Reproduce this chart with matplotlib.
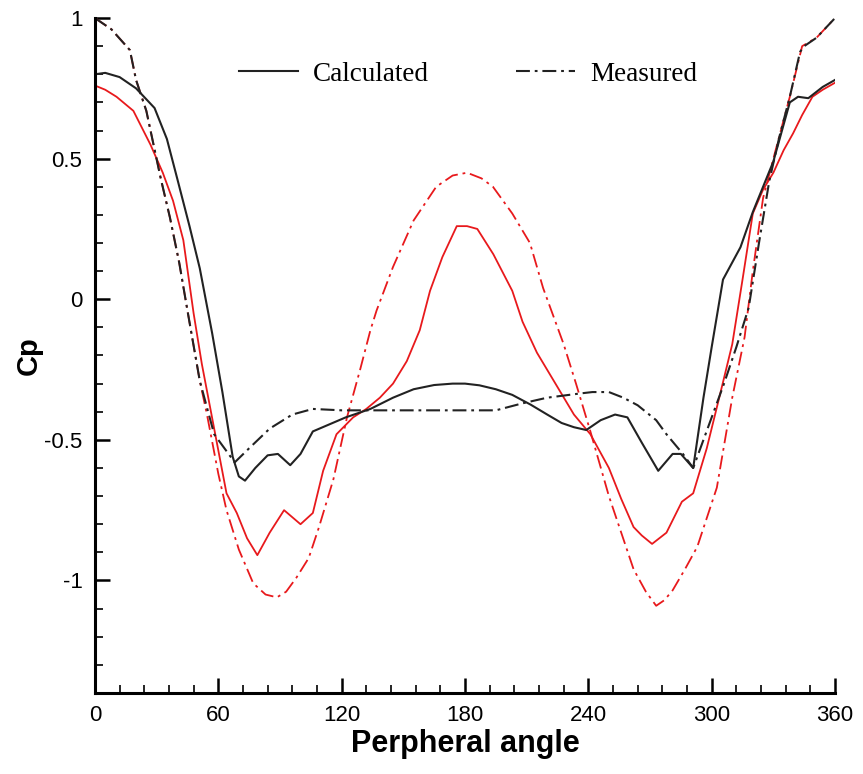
import numpy as np
import matplotlib
matplotlib.use("Agg")
import matplotlib.pyplot as plt

plt.rcParams['lines.scale_dashes'] = False

# black: case 1
calc1_x = [0, 5, 12, 20, 29, 35, 40, 46, 51, 57, 62, 67, 70, 73, 78, 84, 89, 95, 100, 106,
           114, 122, 134, 145, 155, 165, 174, 180, 187, 195, 203, 212, 220, 227, 233, 239,
           246, 253, 259, 266, 274, 281, 285, 291, 296, 300, 305.5, 314, 320, 330, 338, 342,
           347, 354, 360]
calc1_y = [0.80, 0.805, 0.79, 0.75, 0.68, 0.57, 0.43, 0.26, 0.11, -0.12, -0.33, -0.56, -0.63,
           -0.645, -0.60, -0.555, -0.55, -0.59, -0.55, -0.47, -0.445, -0.42, -0.39, -0.35,
           -0.32, -0.305, -0.30, -0.30, -0.306, -0.32, -0.34, -0.375, -0.41, -0.44, -0.455,
           -0.465, -0.43, -0.41, -0.42, -0.51, -0.61, -0.55, -0.55, -0.60, -0.35, -0.17, 0.07,
           0.185, 0.31, 0.49, 0.70, 0.72, 0.715, 0.755, 0.78]

meas1_x = [0, 8, 17, 20, 25, 32, 36.5, 41, 45, 51, 58, 68, 75, 85, 96, 106, 120, 140, 160,
           180, 195, 208, 220, 236, 242, 250, 257, 264, 273, 278, 286, 291, 300, 306, 312,
           318, 323, 328, 333, 338, 343, 345, 351, 360]
meas1_y = [1.0, 0.96, 0.886, 0.78, 0.67, 0.43, 0.29, 0.13, -0.04, -0.29, -0.48, -0.58, -0.53,
           -0.46, -0.41, -0.39, -0.395, -0.395, -0.395, -0.395, -0.395, -0.37, -0.35, -0.335,
           -0.33, -0.33, -0.35, -0.377, -0.43, -0.48, -0.55, -0.60, -0.42, -0.30, -0.17,
           -0.03, 0.20, 0.42, 0.58, 0.72, 0.88, 0.90, 0.93, 1.0]

# red: case 2
calc2_x = [0, 5, 10.5, 18.7, 27, 33, 38, 43, 48, 52, 58, 64, 69, 74, 79, 85, 92, 96, 100, 106,
           111, 117.5, 125.6, 132, 138.6, 145, 151.7, 158, 163, 169, 176, 181, 186, 193.8,
           203, 208, 215, 224, 233, 241, 250, 256, 262, 266, 271, 278, 285.5, 291, 297.6,
           304, 310, 315, 320, 325, 330, 335, 339.6, 344, 349, 354, 360]
calc2_y = [0.76, 0.745, 0.72, 0.67, 0.55, 0.45, 0.35, 0.21, -0.05, -0.23, -0.46, -0.69, -0.76,
           -0.85, -0.91, -0.83, -0.75, -0.775, -0.80, -0.76, -0.61, -0.48, -0.42, -0.39,
           -0.35, -0.30, -0.22, -0.11, 0.03, 0.15, 0.26, 0.26, 0.25, 0.16, 0.03, -0.08, -0.19,
           -0.30, -0.41, -0.48, -0.60, -0.71, -0.81, -0.84, -0.87, -0.83, -0.72, -0.69, -0.53,
           -0.34, -0.16, 0.07, 0.305, 0.39, 0.45, 0.53, 0.59, 0.655, 0.72, 0.745, 0.77]

meas2_x = [0, 8, 17, 20, 25, 32, 36.5, 41, 45, 51, 54.5, 60, 64, 70, 77, 83, 88.5, 93, 98,
           104, 109, 116, 122.6, 129, 134, 137, 145, 155, 166, 174, 181, 188, 193.6, 203,
           211.6, 218, 228, 234, 241, 250, 256, 262, 268, 273, 277, 281, 287, 293, 302.5,
           310, 316, 320, 325, 330, 338, 344, 351, 360]
meas2_y = [1.0, 0.96, 0.886, 0.78, 0.67, 0.43, 0.29, 0.13, -0.04, -0.29, -0.41, -0.62, -0.75,
           -0.89, -1.01, -1.05, -1.06, -1.04, -0.99, -0.92, -0.81, -0.64, -0.42, -0.25, -0.11,
           -0.04, 0.115, 0.28, 0.40, 0.44, 0.45, 0.43, 0.40, 0.305, 0.20, 0.04, -0.16, -0.30,
           -0.47, -0.70, -0.83, -0.96, -1.04, -1.09, -1.07, -1.035, -0.96, -0.88, -0.67,
           -0.35, -0.135, 0.10, 0.36, 0.50, 0.72, 0.90, 0.93, 1.0]

dashdot = (10, 3.5, 2, 3.5)

fig = plt.figure(figsize=(8.63, 7.74), dpi=100)
ax = fig.add_axes([0.110, 0.1047, 0.8576, 0.872])

ax.plot(calc2_x, calc2_y, color='#e8191c', lw=1.3)
ax.plot(meas2_x, meas2_y, color='#e8191c', lw=1.3, dashes=dashdot)
l1, = ax.plot(calc1_x, calc1_y, color='#222222', lw=1.5)
l2, = ax.plot(meas1_x, meas1_y, color='#222222', lw=1.5, dashes=dashdot)

ax.set_xlim(0, 360)
ax.set_ylim(-1.4, 1)
ax.set_xticks(np.arange(0, 361, 60))
ax.set_xticks(np.arange(0, 361, 12), minor=True)
ax.set_yticks([-1, -0.5, 0, 0.5, 1])
ax.set_yticklabels(['-1', '-0.5', '0', '0.5', '1'])
ax.set_yticks(np.arange(-1.4, 1.001, 0.1), minor=True)

for s in ['top', 'right']:
    ax.spines[s].set_visible(False)
for s in ['left', 'bottom']:
    ax.spines[s].set_linewidth(2.2)

ax.tick_params(which='major', direction='in', length=11, width=1.8, labelsize=16, pad=9)
ax.tick_params(which='minor', direction='in', length=6, width=1.2)
for lab in ax.get_xticklabels() + ax.get_yticklabels():
    lab.set_family('Liberation Sans')

ax.set_xlabel('Perpheral angle', fontsize=22, fontweight='bold', family='Liberation Sans',
              labelpad=2)
ax.set_ylabel('Cp', fontsize=21, fontweight='bold', family='Liberation Sans', labelpad=1)

ax.legend([l1, l2], ['Calculated', 'Measured'], loc='center', bbox_to_anchor=(0.504, 0.917),
          ncol=2, frameon=False, handlelength=2.2, columnspacing=3.2, handletextpad=0.55,
          prop={'family': 'Liberation Serif', 'size': 19.5})

fig.savefig('out.png', dpi=100)
